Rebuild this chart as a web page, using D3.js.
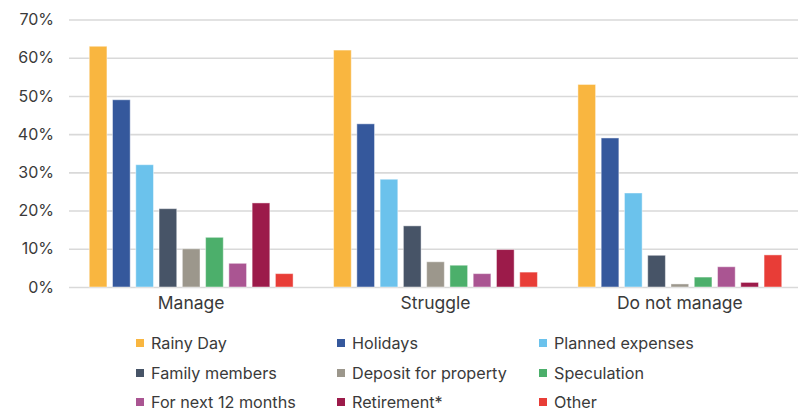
<!DOCTYPE html>
<html>
<head>
<meta charset="utf-8">
<script src="https://cdn.jsdelivr.net/npm/d3@7"></script>
<style>
  html, body { margin: 0; padding: 0; background: #fff; }
  svg { display: block; font-family: Inter, "Noto Sans", sans-serif; }
</style>
</head>
<body>
<svg id="chart" width="798" height="412"></svg>
<script>
// Groups along the x axis
const groups = ["Manage", "Struggle", "Do not manage"];

// Saving purposes (one bar per group each)
const purposes = [
  "Rainy Day", "Holidays", "Planned expenses",
  "Family members", "Deposit for property", "Speculation",
  "For next 12 months", "Retirement*", "Other"
];

// Share of respondents (%) per purpose, one entry per group
const rainyDay      = [63, 62, 53];
const holidays      = [49, 42.7, 39];
const planned       = [32, 28.2, 24.6];
const familyMembers = [20.5, 16, 8.3];
const deposit       = [10, 6.6, 0.8];
const speculation   = [13, 5.7, 2.6];
const next12Months  = [6.2, 3.5, 5.3];
const retirement    = [22, 9.8, 1.2];
const other         = [3.5, 3.9, 8.4];

const seriesValues = [rainyDay, holidays, planned, familyMembers, deposit,
                      speculation, next12Months, retirement, other];

const colors = ["#F9B640", "#35589C", "#6BC2EC", "#475467", "#9C978C",
                "#4CAF6B", "#AA5592", "#9C1B4A", "#E83D37"];

const yTicks = [0, 10, 20, 30, 40, 50, 60, 70];

const svg = d3.select("#chart");
const plot = { left: 69, right: 802, top: 19.5, bottom: 287 };
const textColor = "#3a3a3a";

const x0 = d3.scaleBand().domain(groups).range([plot.left, plot.right]);
const x1 = d3.scaleBand().domain(purposes)
  .range([0, x0.bandwidth()])
  .paddingInner(0.24)
  .paddingOuter(0.87);
const y = d3.scaleLinear().domain([0, 70]).range([plot.bottom, plot.top]);
const color = d3.scaleOrdinal().domain(purposes).range(colors);

// Horizontal gridlines with percentage labels
const yAxis = d3.axisLeft(y)
  .tickValues(yTicks)
  .tickFormat(d => d + "%")
  .tickSize(-(plot.right - plot.left))
  .tickPadding(15);

const gy = svg.append("g")
  .attr("transform", `translate(${plot.left},0)`)
  .call(yAxis);
gy.select(".domain").remove();
gy.selectAll(".tick line").attr("stroke", "#d9d9d9").attr("stroke-width", 1.6);
gy.selectAll(".tick text")
  .attr("fill", textColor)
  .style("font-size", "16px")
  .style("font-family", "Inter, 'Noto Sans', sans-serif");

// Bars
const rows = groups.map((g, gi) => ({
  group: g,
  items: purposes.map((p, pi) => ({ purpose: p, value: seriesValues[pi][gi] }))
}));

svg.append("g").selectAll("g")
  .data(rows)
  .join("g")
  .attr("transform", d => `translate(${x0(d.group)},0)`)
  .selectAll("rect")
  .data(d => d.items)
  .join("rect")
  .attr("x", d => x1(d.purpose))
  .attr("width", x1.bandwidth())
  .attr("y", d => y(d.value))
  .attr("height", d => y(0) - y(d.value))
  .attr("fill", d => color(d.purpose))
  .attr("stroke", "#ffffff")
  .attr("stroke-opacity", 0.45)
  .attr("stroke-width", 1);

// Category labels
const xAxis = d3.axisBottom(x0).tickSize(0).tickPadding(10);
const gx = svg.append("g")
  .attr("transform", `translate(0,${plot.bottom})`)
  .call(xAxis);
gx.select(".domain").remove();
gx.selectAll(".tick text")
  .attr("fill", textColor)
  .style("font-size", "17.5px")
  .style("font-family", "Inter, 'Noto Sans', sans-serif");

// Legend: three columns, three rows
const legendCols = [136, 337, 539];
const legendRows = [343, 373, 402];
const legend = svg.append("g").selectAll("g")
  .data(purposes)
  .join("g")
  .attr("transform", (d, i) => `translate(${legendCols[i % 3]},${legendRows[Math.floor(i / 3)]})`);

legend.append("rect")
  .attr("x", 0).attr("y", -4)
  .attr("width", 8).attr("height", 8)
  .attr("fill", d => color(d));

legend.append("text")
  .attr("x", 15)
  .attr("dy", "0.35em")
  .attr("fill", textColor)
  .style("font-size", "16.2px")
  .text(d => d);
</script>
</body>
</html>
